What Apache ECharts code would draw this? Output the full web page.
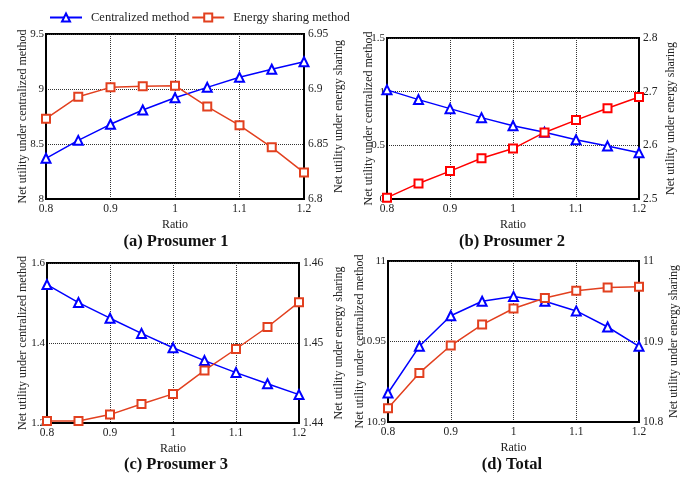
<!DOCTYPE html>
<html>
<head>
<meta charset="utf-8">
<script src="https://cdn.jsdelivr.net/npm/echarts@6/dist/echarts.min.js"></script>
<style>
  html, body { margin: 0; padding: 0; background: #fff; }
  #main { width: 686px; height: 479px; }
</style>
</head>
<body>
<div id="main"></div>
<script>
// x values (Ratio)
const ratios = [0.8, 0.85, 0.9, 0.95, 1.0, 1.05, 1.1, 1.15, 1.2]

// (a) Prosumer 1
const p1Central = [8.37, 8.533, 8.679, 8.809, 8.921, 9.015, 9.106, 9.18, 9.248]
const p1Sharing = [6.873, 6.893, 6.9015, 6.9024, 6.903, 6.884, 6.867, 6.847, 6.824]
// (b) Prosumer 2
const p2Central = [1.017, 0.926, 0.842, 0.758, 0.683, 0.621, 0.552, 0.493, 0.43]
const p2Sharing = [2.5025, 2.529, 2.552, 2.576, 2.594, 2.624, 2.647, 2.669, 2.69]
// (c) Prosumer 3
const p3Central = [1.546, 1.501, 1.462, 1.424, 1.388, 1.356, 1.326, 1.298, 1.271]
const p3Sharing = [1.44025, 1.44025, 1.44105, 1.44238, 1.44364, 1.44657, 1.44925, 1.452, 1.4551]
// (d) Total
const totalCentral = [10.918, 10.947, 10.966, 10.975, 10.978, 10.975, 10.969, 10.959, 10.947]
const totalSharing = [10.817, 10.861, 10.895, 10.921, 10.941, 10.954, 10.963, 10.967, 10.968]

const panelTitles = ['(a) Prosumer 1', '(b) Prosumer 2', '(c) Prosumer 3', '(d) Total']
// left axis [min, max, interval], right axis [min, max, interval]
const leftRanges = [[8, 9.5, 0.5], [0, 1.5, 0.5], [1.2, 1.6, 0.2], [10.9, 11, 0.05]]
const rightRanges = [[6.8, 6.95, 0.05], [2.5, 2.8, 0.1], [1.44, 1.46, 0.01], [10.8, 11, 0.1]]

const FONT = 'Liberation Serif'
const BLUE = '#0000ff'
const RED = '#e2401f'

const chartDom = document.getElementById('main')
const myChart = echarts.init(chartDom)

const grids = [
  { left: 46, top: 34, width: 258, height: 165 },
  { left: 387, top: 38, width: 252, height: 161 },
  { left: 47, top: 263, width: 252, height: 160 },
  { left: 388, top: 261, width: 251, height: 161 },
].map(g => Object.assign(g, { show: true, borderColor: '#000', borderWidth: 2 }))

const leftGaps = [17, 12, 18, 22]
const rightGaps = [29, 26, 34, 29]
const titlePos = [[176, 242], [512, 242], [176, 465], [512, 465]]

const pairs = vals => vals.map((v, i) => [ratios[i], v])

const xAxes = grids.map((g, i) => ({
  type: 'value',
  gridIndex: i,
  min: 0.8,
  max: 1.2,
  interval: 0.1,
  name: 'Ratio',
  nameLocation: 'middle',
  nameGap: 20,
  nameMoveOverlap: false,
  nameTextStyle: { fontFamily: FONT, fontSize: 12, color: '#222' },
  axisLine: { lineStyle: { color: '#000', width: 2 } },
  axisTick: { show: false },
  axisLabel: { fontFamily: FONT, fontSize: 11.5, color: '#222', margin: 4 },
  splitLine: { show: true, lineStyle: { color: '#333', type: 'dotted', width: 1 } },
}))

const yAxes = []
grids.forEach((g, i) => {
  const [lmin, lmax, lint] = leftRanges[i]
  const [rmin, rmax, rint] = rightRanges[i]
  yAxes.push({
    type: 'value',
    gridIndex: i,
    position: 'left',
    min: lmin,
    max: lmax,
    interval: lint,
    name: 'Net utility under centralized method',
    nameLocation: 'middle',
    nameGap: leftGaps[i],
    nameMoveOverlap: false,
    nameTextStyle: { fontFamily: FONT, fontSize: 12, color: '#222' },
    axisLine: { show: true, lineStyle: { color: '#000', width: 2 } },
    axisTick: { show: false },
    axisLabel: { fontFamily: FONT, fontSize: 11, color: '#222', margin: 2 },
    splitLine: { show: true, lineStyle: { color: '#333', type: 'dotted', width: 1 } },
  })
  yAxes.push({
    type: 'value',
    gridIndex: i,
    position: 'right',
    min: rmin,
    max: rmax,
    interval: rint,
    name: 'Net utility under energy sharing',
    nameLocation: 'middle',
    nameGap: rightGaps[i],
    nameMoveOverlap: false,
    nameTextStyle: { fontFamily: FONT, fontSize: 12, color: '#222' },
    axisLine: { show: true, lineStyle: { color: '#000', width: 2 } },
    axisTick: { show: false },
    axisLabel: { fontFamily: FONT, fontSize: 11.5, color: '#222', margin: 4 },
    splitLine: { show: false },
  })
})

const centralData = [p1Central, p2Central, p3Central, totalCentral]
const sharingData = [p1Sharing, p2Sharing, p3Sharing, totalSharing]

const series = []
grids.forEach((g, i) => {
  series.push({
    name: 'Centralized method',
    type: 'line',
    xAxisIndex: i,
    yAxisIndex: i * 2,
    data: pairs(centralData[i]),
    symbol: 'emptyTriangle',
    symbolSize: 9,
    color: BLUE,
    lineStyle: { width: 1.5, color: BLUE },
    itemStyle: { color: BLUE, borderWidth: 1.5 },
    animation: false,
  })
  const red = i === 1 ? '#ff0000' : RED
  series.push({
    name: 'Energy sharing method',
    type: 'line',
    xAxisIndex: i,
    yAxisIndex: i * 2 + 1,
    data: pairs(sharingData[i]),
    symbol: 'emptyRect',
    symbolSize: 8,
    color: red,
    lineStyle: { width: 1.5, color: red },
    itemStyle: { color: red, borderWidth: 1.5 },
    animation: false,
  })
})

const option = {
  backgroundColor: '#fff',
  legend: {
    left: 44,
    top: 6,
    itemWidth: 32,
    itemHeight: 10,
    itemGap: 2,
    data: ['Centralized method', 'Energy sharing method'],
    textStyle: { fontFamily: FONT, fontSize: 12.5, color: '#222', padding: [0, 0, 0, 4] },
  },
  grid: grids,
  xAxis: xAxes,
  yAxis: yAxes,
  series: series,
  graphic: panelTitles.map((t, i) => ({
    type: 'text',
    x: titlePos[i][0],
    y: titlePos[i][1],
    style: {
      text: t,
      fontFamily: FONT,
      fontSize: 16.5,
      fontWeight: 'bold',
      fill: '#111',
      textAlign: 'center',
      textVerticalAlign: 'middle',
    },
  })),
}

option && myChart.setOption(option)
</script>
</body>
</html>
